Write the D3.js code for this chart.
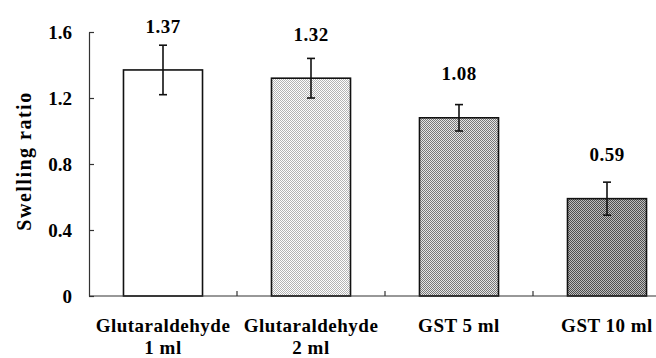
<!DOCTYPE html>
<html><head><meta charset="utf-8">
<script src="https://cdn.jsdelivr.net/npm/d3@7"></script>
<style>
html,body{margin:0;padding:0;background:#fff;}
svg text{font-family:"Liberation Serif","DejaVu Serif",serif !important;font-weight:bold;fill:#000;}
</style></head>
<body><svg id="c" width="656" height="358"></svg>
<script>
const categories = [["Glutaraldehyde","1 ml"],["Glutaraldehyde","2 ml"],["GST 5 ml"],["GST 10 ml"]];
const values = [1.37, 1.32, 1.08, 0.59];
const errors = [0.15, 0.12, 0.08, 0.10];
const valueLabels = ["1.37","1.32","1.08","0.59"];
const yTicks = [0, 0.4, 0.8, 1.2, 1.6];
const yTickLabels = ["0","0.4","0.8","1.2","1.6"];
const yTitle = "Swelling ratio";

const svg = d3.select("#c");
const defs = svg.append("defs");
const pats = [null, ["#ffffff","#b4b4b4"], ["#e6e6e6","#787878"], ["#bdbdbd","#4e4e4e"]];
pats.forEach((p,i)=>{
  if(!p) return;
  const pt = defs.append("pattern").attr("id","p"+i).attr("patternUnits","userSpaceOnUse")
    .attr("width",2).attr("height",2);
  pt.append("rect").attr("width",2).attr("height",2).attr("fill",p[0]);
  pt.append("rect").attr("width",1).attr("height",1).attr("fill",p[1]);
  pt.append("rect").attr("x",1).attr("y",1).attr("width",1).attr("height",1).attr("fill",p[1]);
});

const x0 = 89, y0 = 296;
const idx = categories.map((d,i)=>i);
const x = d3.scaleBand().domain(idx).range([x0, x0 + 592]).paddingInner(0.466).paddingOuter(0.233);
const y = d3.scaleLinear().domain([0,1.6]).range([y0, 32]);

// bars
svg.append("g").selectAll("rect").data(values).join("rect")
  .attr("x",(d,i)=>x(i)).attr("y",d=>y(d))
  .attr("width",x.bandwidth()).attr("height",d=>y0-y(d))
  .attr("fill",(d,i)=>i===0?"#fff":"url(#p"+i+")")
  .attr("stroke","#111").attr("stroke-width",1.6);

// error bars
const eg = svg.append("g").attr("stroke","#111").attr("stroke-width",1.6);
values.forEach((v,i)=>{
  const cx = x(i)+x.bandwidth()/2;
  eg.append("line").attr("x1",cx).attr("x2",cx).attr("y1",y(v+errors[i])).attr("y2",y(v-errors[i]));
  eg.append("line").attr("x1",cx-4).attr("x2",cx+4).attr("y1",y(v+errors[i])).attr("y2",y(v+errors[i]));
  eg.append("line").attr("x1",cx-4).attr("x2",cx+4).attr("y1",y(v-errors[i])).attr("y2",y(v-errors[i]));
});

// value labels
svg.append("g").selectAll("text").data(values).join("text")
  .attr("x",(d,i)=>x(i)+x.bandwidth()/2).attr("y",d=>y(d)-44).attr("dy","0.35em")
  .attr("text-anchor","middle").attr("font-size",19).attr("letter-spacing",0.5).text((d,i)=>valueLabels[i]);

// y axis
const yAxis = d3.axisLeft(y).tickValues(yTicks).tickFormat((d,i)=>yTickLabels[i])
  .tickSizeInner(-5).tickSizeOuter(0).tickPadding(17);
const gy = svg.append("g").attr("transform",`translate(${x0},0)`).call(yAxis);
gy.attr("font-family",null).attr("font-size",null);
gy.select(".domain").attr("stroke","#333").attr("stroke-width",1.2);
gy.selectAll(".tick line").attr("stroke","#333").attr("stroke-width",1.2);
gy.selectAll(".tick text").attr("font-size",19).attr("fill","#000");

// x axis line
svg.append("line").attr("x1",x0).attr("x2",656).attr("y1",y0).attr("y2",y0).attr("stroke","#333").attr("stroke-width",1.2);
// category boundary ticks
const step = x.step();
svg.append("g").selectAll("line").data(idx.slice(1)).join("line")
  .attr("x1",i=>x(i)-step*x.paddingInner()/2).attr("x2",i=>x(i)-step*x.paddingInner()/2)
  .attr("y1",y0).attr("y2",y0-5).attr("stroke","#333").attr("stroke-width",1.2);

// category labels
const cl = svg.append("g").selectAll("text").data(categories).join("text")
  .attr("text-anchor","middle").attr("font-size",19).attr("letter-spacing",0.5)
  .attr("x",(d,i)=>x(i)+x.bandwidth()/2).attr("y",332);
cl.each(function(d,i){
  const t = d3.select(this);
  d.forEach((s,j)=>t.append("tspan").attr("x",x(i)+x.bandwidth()/2).attr("dy",j?22:0).text(s));
});

// y title
svg.append("text").attr("transform",`translate(31,${(y0+32)/2 - 3}) rotate(-90)`)
  .attr("text-anchor","middle").attr("font-size",20).attr("letter-spacing",1.5).text(yTitle);
</script></body></html>
